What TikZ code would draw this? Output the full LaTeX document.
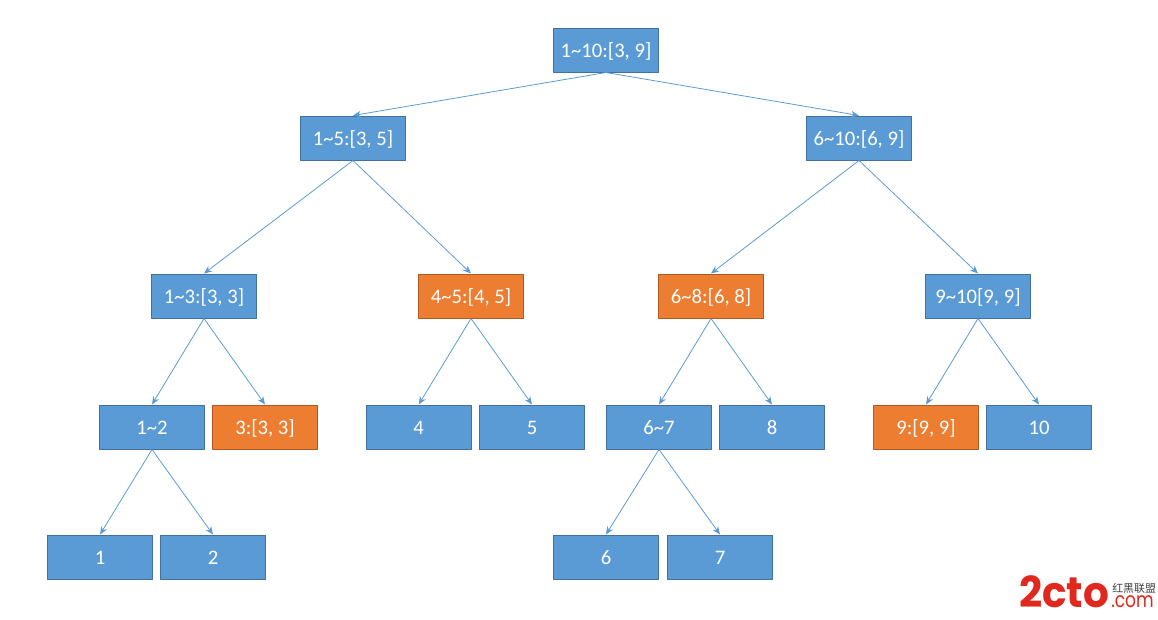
\documentclass[tikz,border=0pt]{standalone}
\usepackage{fontspec}
\setmainfont{Carlito}
\newfontfamily\logofont[FakeStretch=0.95]{Poppins}
\newfontfamily\logosmall[FakeStretch=0.8]{Poppins}
\newfontfamily\cjk{Noto Sans CJK SC}
\definecolor{boxblue}{HTML}{5B9BD5}
\definecolor{boxblueline}{HTML}{41719C}
\definecolor{boxorange}{HTML}{ED7D31}
\definecolor{boxorangeline}{HTML}{AE5A21}
\definecolor{logored}{HTML}{E0281E}
\tikzset{
  seg/.style={draw=boxblueline, fill=boxblue, line width=0.75pt, text=white, minimum width=78.75pt, minimum height=33pt, inner sep=0pt, text height=11.3pt, text depth=0pt, font=\fontsize{15.5}{17}\selectfont},
  hit/.style={seg, draw=boxorangeline, fill=boxorange},
  link/.style={draw=boxblue, line width=0.6pt, -{Stealth[length=6pt,width=5pt]}},
}
\usetikzlibrary{arrows.meta}
\begin{document}
\begin{tikzpicture}[x=0.75pt, y=-0.75pt, line join=round, >=stealth]
\useasboundingbox (0,0) rectangle (1158,619);
\node[seg] (r) at (606,50) {1\textasciitilde 10:[3, 9]};
\node[seg] (a) at (353,138) {1\textasciitilde 5:[3, 5]};
\node[seg] (b) at (859,138) {6\textasciitilde 10:[6, 9]};
\node[seg] (aa) at (204,296) {1\textasciitilde 3:[3, 3]};
\node[hit] (ab) at (471,296) {4\textasciitilde 5:[4, 5]};
\node[hit] (ba) at (711,296) {6\textasciitilde 8:[6, 8]};
\node[seg] (bb) at (978,296) {9\textasciitilde 10[9, 9]};
\node[seg] (n12) at (152,427) {1\textasciitilde 2};
\node[hit] (n3) at (265,427) {3:[3, 3]};
\node[seg] (n4) at (418.7,427) {4};
\node[seg] (n5) at (532,427) {5};
\node[seg] (n67) at (659,427) {6\textasciitilde 7};
\node[seg] (n8) at (772,427) {8};
\node[hit] (n9) at (926,427) {9:[9, 9]};
\node[seg] (n10) at (1039,427) {10};
\node[seg] (n1) at (100,557) {1};
\node[seg] (n2) at (213,557) {2};
\node[seg] (n6) at (606,557) {6};
\node[seg] (n7) at (720,557) {7};
\foreach \p/\c in {r/a,r/b,a/aa,a/ab,b/ba,b/bb,aa/n12,aa/n3,ab/n4,ab/n5,ba/n67,ba/n8,bb/n9,bb/n10,n12/n1,n12/n2,n67/n6,n67/n7}{
\draw[link] (\p.south)--(\c.north);
}
% logo
\node[anchor=base west, inner sep=0pt, text=logored, font=\logofont\bfseries\fontsize{32}{32}\selectfont] (logo) at (1019,607.5) {2cto};
\node[anchor=base west, inner sep=0pt, text=logored, font=\logosmall\fontsize{16}{16}\selectfont] (logocom) at (1111,607.5) {.com};
\node[anchor=base west, inner sep=0pt, text=black!75, font=\cjk\fontsize{8.2}{9}\selectfont] (logocn) at (1112,592) {红黑联盟};
\end{tikzpicture}
\end{document}
